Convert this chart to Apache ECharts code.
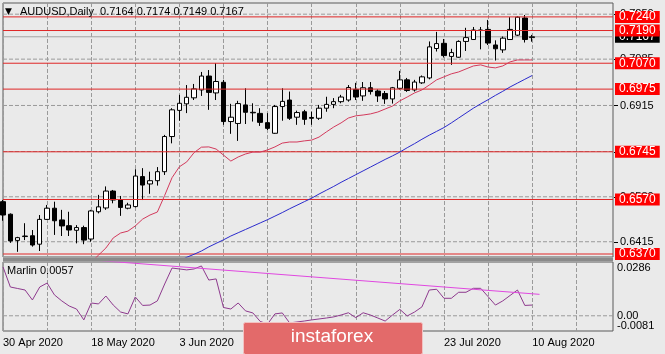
<!DOCTYPE html>
<html>
<head>
<meta charset="utf-8">
<script src="https://cdn.jsdelivr.net/npm/echarts@6/dist/echarts.min.js"></script>
<style>
  html, body { margin: 0; padding: 0; background: #eaeaea; }
  #chart { width: 665px; height: 354px; }
</style>
</head>
<body>
<div id="chart"></div>
<script>
// trading days shown on the chart
const dates = [
  '30 Apr 2020',
  '1 May 2020', '4 May 2020', '5 May 2020', '6 May 2020', '7 May 2020', '8 May 2020',
  '11 May 2020', '12 May 2020', '13 May 2020', '14 May 2020', '15 May 2020',
  '18 May 2020', '19 May 2020', '20 May 2020', '21 May 2020', '22 May 2020',
  '25 May 2020', '26 May 2020', '27 May 2020', '28 May 2020', '29 May 2020',
  '1 Jun 2020', '2 Jun 2020', '3 Jun 2020', '4 Jun 2020', '5 Jun 2020',
  '8 Jun 2020', '9 Jun 2020', '10 Jun 2020', '11 Jun 2020', '12 Jun 2020',
  '15 Jun 2020', '16 Jun 2020', '17 Jun 2020', '18 Jun 2020', '19 Jun 2020',
  '22 Jun 2020', '23 Jun 2020', '24 Jun 2020', '25 Jun 2020', '26 Jun 2020',
  '29 Jun 2020', '30 Jun 2020', '1 Jul 2020', '2 Jul 2020', '3 Jul 2020',
  '6 Jul 2020', '7 Jul 2020', '8 Jul 2020', '9 Jul 2020', '10 Jul 2020',
  '13 Jul 2020', '14 Jul 2020', '15 Jul 2020', '16 Jul 2020', '17 Jul 2020',
  '20 Jul 2020', '21 Jul 2020', '22 Jul 2020', '23 Jul 2020', '24 Jul 2020',
  '27 Jul 2020', '28 Jul 2020', '29 Jul 2020', '30 Jul 2020', '31 Jul 2020',
  '3 Aug 2020', '4 Aug 2020', '5 Aug 2020', '6 Aug 2020', '7 Aug 2020',
  '10 Aug 2020'
];

const opens = [
  0.6562, 0.6516, 0.6420, 0.6434, 0.6437, 0.6406, 0.6497, 0.6538, 0.6495, 0.6474,
  0.6457, 0.6467, 0.6425, 0.6525, 0.6539, 0.6601, 0.6568, 0.6538, 0.6544, 0.6654,
  0.6627, 0.6639, 0.6672, 0.6801, 0.6897, 0.6921, 0.6943, 0.6972, 0.7023, 0.6961,
  0.7000, 0.6856, 0.6849, 0.6917, 0.6890, 0.6886, 0.6852, 0.6813, 0.6911, 0.6935,
  0.6872, 0.6892, 0.6871, 0.6868, 0.6905, 0.6919, 0.6929, 0.6935, 0.6974, 0.6950,
  0.6980, 0.6968, 0.6959, 0.6939, 0.6978, 0.7009, 0.6972, 0.6998, 0.7016, 0.7124,
  0.7143, 0.7095, 0.7092, 0.7150, 0.7157, 0.7192, 0.7194, 0.7137, 0.7119, 0.7157,
  0.7173, 0.7236, 0.7164
];
const highs = [
  0.6568, 0.6519, 0.6433, 0.6483, 0.6458, 0.6513, 0.6550, 0.6562, 0.6532, 0.6525,
  0.6476, 0.6474, 0.6532, 0.6587, 0.6618, 0.6605, 0.6583, 0.6558, 0.6681, 0.6685,
  0.6672, 0.6689, 0.6807, 0.6905, 0.6954, 0.6990, 0.6994, 0.7038, 0.7045, 0.7070,
  0.7009, 0.6921, 0.6932, 0.6978, 0.6923, 0.6905, 0.6887, 0.6917, 0.6978, 0.6966,
  0.6896, 0.6899, 0.6892, 0.6917, 0.6947, 0.6942, 0.6954, 0.6990, 0.6998, 0.7001,
  0.7001, 0.6974, 0.6968, 0.6983, 0.7042, 0.7016, 0.7009, 0.7025, 0.7150, 0.7185,
  0.7159, 0.7123, 0.7154, 0.7200, 0.7203, 0.7203, 0.7229, 0.7154, 0.7168, 0.7239,
  0.7242, 0.7247, 0.7174
];
const lows = [
  0.6492, 0.6411, 0.6378, 0.6421, 0.6397, 0.6381, 0.6495, 0.6440, 0.6436, 0.6436,
  0.6409, 0.6406, 0.6415, 0.6519, 0.6532, 0.6556, 0.6510, 0.6534, 0.6541, 0.6568,
  0.6591, 0.6621, 0.6660, 0.6776, 0.6859, 0.6887, 0.6935, 0.6950, 0.6899, 0.6935,
  0.6844, 0.6811, 0.6785, 0.6847, 0.6856, 0.6840, 0.6825, 0.6811, 0.6859, 0.6862,
  0.6844, 0.6844, 0.6844, 0.6862, 0.6892, 0.6905, 0.6923, 0.6929, 0.6935, 0.6932,
  0.6955, 0.6928, 0.6921, 0.6922, 0.6973, 0.6965, 0.6966, 0.6994, 0.7011, 0.7113,
  0.7091, 0.7064, 0.7090, 0.7115, 0.7156, 0.7121, 0.7137, 0.7080, 0.7108, 0.7156,
  0.7170, 0.7146, 0.7149
];
const closes = [
  0.6513, 0.6418, 0.6430, 0.6436, 0.6403, 0.6497, 0.6538, 0.6492, 0.6473, 0.6458,
  0.6467, 0.6421, 0.6528, 0.6543, 0.6601, 0.6568, 0.6541, 0.6550, 0.6656, 0.6623,
  0.6639, 0.6672, 0.6801, 0.6899, 0.6923, 0.6945, 0.6976, 0.7023, 0.6963, 0.7003,
  0.6856, 0.6872, 0.6922, 0.6890, 0.6888, 0.6853, 0.6831, 0.6911, 0.6930, 0.6868,
  0.6889, 0.6864, 0.6868, 0.6905, 0.6919, 0.6929, 0.6946, 0.6981, 0.6946, 0.6980,
  0.6966, 0.6950, 0.6939, 0.6980, 0.7009, 0.6970, 0.7001, 0.7020, 0.7130, 0.7142,
  0.7098, 0.7109, 0.7150, 0.7164, 0.7192, 0.7190, 0.7144, 0.7123, 0.7162, 0.7194,
  0.7239, 0.7157, 0.7167
];

// moving averages (red = fast, blue = slow)
const maFast = [
  null, null, null, null, null, null, null, null, null, null, null, null,
  0.6340, 0.6366, 0.6392, 0.6429, 0.6447, 0.6454, 0.6473, 0.6498, 0.6513, 0.6524,
  0.6585, 0.6650, 0.6690, 0.6708, 0.6742, 0.6762, 0.6763, 0.6755, 0.6733, 0.6711,
  0.6726, 0.6737, 0.6744, 0.6744, 0.6752, 0.6763, 0.6777, 0.6781, 0.6781, 0.6785,
  0.6788, 0.6799, 0.6818, 0.6836, 0.6851, 0.6869, 0.6877, 0.6880, 0.6884, 0.6891,
  0.6902, 0.6913, 0.6932, 0.6946, 0.6961, 0.6972, 0.6990, 0.7009, 0.7020, 0.7031,
  0.7038, 0.7049, 0.7060, 0.7064, 0.7056, 0.7053, 0.7060, 0.7075, 0.7082, 0.7082,
  0.7082
];
const maSlow = [
  null, null, null, null, null, null, null, null, null, null, null, null,
  null, null, null, null, null, null, null, null, null, null, null, null,
  0.6344, 0.6358, 0.6369, 0.6381, 0.6396, 0.6409, 0.6422, 0.6436,
  0.6448, 0.6460, 0.6472, 0.6484, 0.6496, 0.6509, 0.6522, 0.6536, 0.6549, 0.6562,
  0.6575, 0.6590, 0.6604, 0.6618, 0.6633, 0.6647, 0.6661, 0.6675, 0.6689, 0.6703,
  0.6717, 0.6730, 0.6744, 0.6760, 0.6775, 0.6791, 0.6806, 0.6820, 0.6834, 0.6851,
  0.6869, 0.6887, 0.6905, 0.6921, 0.6936, 0.6952, 0.6967, 0.6983, 0.6997, 0.7011,
  0.7025
];

// Marlin oscillator
const marlin = [
  0.0260, 0.0153, 0.0145, 0.0137, 0.0084, 0.0153, 0.0174, 0.0111, 0.0079, 0.0052,
  0.0036, -0.0022, 0.0068, 0.0063, 0.0105, 0.0057, 0.0020, 0.0010, 0.0100, 0.0055,
  0.0057, 0.0079, 0.0169, 0.0254, 0.0249, 0.0244, 0.0249, 0.0265, 0.0190, 0.0196,
  0.0044, 0.0036, 0.0068, 0.0026, 0.0015, -0.0030, -0.0044, 0.0010, 0.0015, -0.0038,
  -0.0033, -0.0028, -0.0022, -0.0017, -0.0012, -0.0006, 0.0004, 0.0016, -0.0010, 0.0016,
  0.0004, -0.0012, -0.0028, 0.0004, 0.0034, -0.0001, 0.0020, 0.0047, 0.0137, 0.0141,
  0.0093, 0.0093, 0.0125, 0.0125, 0.0146, 0.0146, 0.0102, 0.0057, 0.0079, 0.0108,
  0.0137, 0.0055, 0.0057
];
const marlinTrend = [[12, 0.0297], [73, 0.0114]];

// horizontal levels and scale labels
const levels = [0.7240, 0.7190, 0.7070, 0.6975, 0.6745, 0.6570, 0.6370];
const bidPrice = 0.7167;
const priceTicks = [0.7250, 0.7085, 0.6915, 0.6746, 0.6580, 0.6415];
const marlinTicks = [0.0286, 0, -0.0081];

const FONT = '"Liberation Sans", Arial, sans-serif';
const SLOTS = 84;
const AXIS_X = 613;

const categories = dates.concat(new Array(SLOTS - dates.length).fill(''));
const candles = dates.map((d, i) => [opens[i], closes[i], lows[i], highs[i]]);
const last = dates.length - 1;

const chart = echarts.init(document.getElementById('chart'));

const GRID_COLOR = '#9a9a9a';
const gridLine = () => ({ color: GRID_COLOR, type: 'dashed', width: 1 });

// a full-width horizontal line drawn as a two point line series
function hLine(value, axis, lineStyle, z) {
  return {
    type: 'line', xAxisIndex: axis, yAxisIndex: axis, z: z,
    data: [[0, value], [SLOTS - 1, value]],
    symbol: 'none', silent: true, lineStyle: lineStyle
  };
}

const series = [];
priceTicks.forEach(v => series.push(hLine(v, 0, gridLine(), 1)));
series.push(hLine(bidPrice, 0, { color: '#a4a4a4', width: 1 }, 2));
series.push({
  type: 'candlestick', xAxisIndex: 0, yAxisIndex: 0, data: candles,
  barWidth: 5, clip: false, z: 3, silent: true,
  itemStyle: {
    color: '#ffffff', color0: '#000000',
    borderColor: '#000000', borderColor0: '#000000', borderWidth: 1
  }
});
levels.forEach(v => series.push(hLine(v, 0, { color: '#e02626', width: 1 }, 4)));
series.push({
  type: 'line', xAxisIndex: 0, yAxisIndex: 0, data: maFast, z: 5,
  symbol: 'none', silent: true, lineStyle: { color: '#d23a5c', width: 1 }
});
series.push({
  type: 'line', xAxisIndex: 0, yAxisIndex: 0, data: maSlow, z: 5,
  symbol: 'none', silent: true, lineStyle: { color: '#2a2acc', width: 1 }
});
series.push(hLine(0, 1, gridLine(), 1));
series.push({
  type: 'line', xAxisIndex: 1, yAxisIndex: 1, data: marlin, z: 4,
  symbol: 'none', silent: true, lineStyle: { color: '#8e3a8e', width: 1 }
});
series.push({
  type: 'line', xAxisIndex: 1, yAxisIndex: 1, data: marlinTrend, z: 5,
  symbol: 'none', silent: true, lineStyle: { color: '#e048e0', width: 1 }
});

const option = {
  backgroundColor: '#eaeaea',
  animation: false,
  textStyle: { fontFamily: FONT },
  grid: [
    { left: 3, right: 52, top: 3, height: 254, show: true, borderColor: '#5a5a5a', borderWidth: 1 },
    { left: 3, right: 52, top: 262, height: 69, show: true, borderColor: '#5a5a5a', borderWidth: 1 }
  ],
  xAxis: [
    {
      type: 'category', gridIndex: 0, data: categories, boundaryGap: false,
      axisLine: { show: false },
      axisTick: { show: false, interval: 5 },
      axisLabel: { show: false, interval: 5 },
      splitLine: { show: true, interval: 5, lineStyle: gridLine() }
    },
    {
      type: 'category', gridIndex: 1, data: categories, boundaryGap: false,
      axisLine: { show: false },
      axisTick: { show: false, interval: 5 },
      axisLabel: {
        show: true, interval: 11, align: 'left', margin: 6,
        color: '#000', fontSize: 11, fontFamily: FONT
      },
      splitLine: { show: true, interval: 5, lineStyle: gridLine() }
    }
  ],
  yAxis: [
    {
      type: 'value', gridIndex: 0, position: 'right', min: 0.6359, max: 0.7291,
      axisLine: { show: false }, axisTick: { show: false }, axisLabel: { show: false },
      splitLine: { show: false }
    },
    {
      type: 'value', gridIndex: 1, position: 'right', min: -0.0081, max: 0.0286,
      axisLine: { show: false }, axisTick: { show: false }, axisLabel: { show: false },
      splitLine: { show: false }
    }
  ],
  series: series
};

chart.setOption(option);

// price-scale labels, placed with the axis scale
const toY = (v, axis) => chart.convertToPixel({ yAxisIndex: axis }, v);
const graphics = [];

priceTicks.forEach(v => {
  const y = Math.round(toY(v, 0)) + 0.5;
  graphics.push({
    type: 'line', z: 50, silent: true,
    shape: { x1: AXIS_X + 1, y1: y, x2: AXIS_X + 5, y2: y },
    style: { stroke: '#000', lineWidth: 1 }
  });
  graphics.push({
    type: 'text', z: 50, silent: true, x: AXIS_X + 7, y: toY(v, 0),
    style: { text: v.toFixed(4), font: '11px ' + FONT, fill: '#000', verticalAlign: 'middle' }
  });
});

function boxLabel(v, bg, z) {
  return {
    type: 'text', z: z, silent: true, x: AXIS_X + 2, y: toY(v, 0),
    style: {
      text: v.toFixed(4), font: '12px ' + FONT, fill: '#fff', verticalAlign: 'middle',
      backgroundColor: bg, padding: [1, 4, 0, 4], lineHeight: 11
    }
  };
}
graphics.push(boxLabel(bidPrice, '#000', 51));
levels.forEach(v => graphics.push(boxLabel(v, '#ff0000', 52)));

marlinTicks.forEach(v => {
  graphics.push({
    type: 'text', z: 50, silent: true, x: AXIS_X + 4, y: toY(v, 1),
    style: {
      text: v === 0 ? '0.00' : v.toFixed(4), font: '11px ' + FONT, fill: '#000',
      verticalAlign: v > 0 ? 'top' : (v < 0 ? 'bottom' : 'middle')
    }
  });
});

graphics.push(
  {
    type: 'rect', z: 55, silent: true,
    shape: { x: 3, y: 258, width: 610, height: 3 },
    style: { fill: '#8a8a8a' }
  },
  {
    type: 'text', z: 55, silent: true, x: 5, y: 7,
    style: { text: '\u25BC', font: '9px "DejaVu Sans"', fill: '#000' }
  },
  {
    type: 'text', z: 55, silent: true, x: 20, y: 6,
    style: {
      text: 'AUDUSD,Daily  ' + [opens[last], highs[last], lows[last], closes[last]]
        .map(v => v.toFixed(4)).join(' '),
      font: '11px ' + FONT, fill: '#000'
    }
  },
  {
    type: 'text', z: 55, silent: true, x: 7, y: 265,
    style: { text: 'Marlin ' + marlin[last].toFixed(4), font: '11px ' + FONT, fill: '#000' }
  },
  {
    type: 'rect', z: 100, silent: true,
    shape: { x: 243.5, y: 322.5, width: 179, height: 32, r: 2 },
    style: { fill: '#e36a6a', stroke: '#f3c2c2', lineWidth: 1 }
  },
  {
    type: 'text', z: 101, silent: true, x: 332, y: 337,
    style: {
      text: 'instaforex', font: '19px ' + FONT, fill: '#ffffff',
      align: 'center', verticalAlign: 'middle'
    }
  }
);

chart.setOption({ graphic: graphics });
</script>
</body>
</html>
